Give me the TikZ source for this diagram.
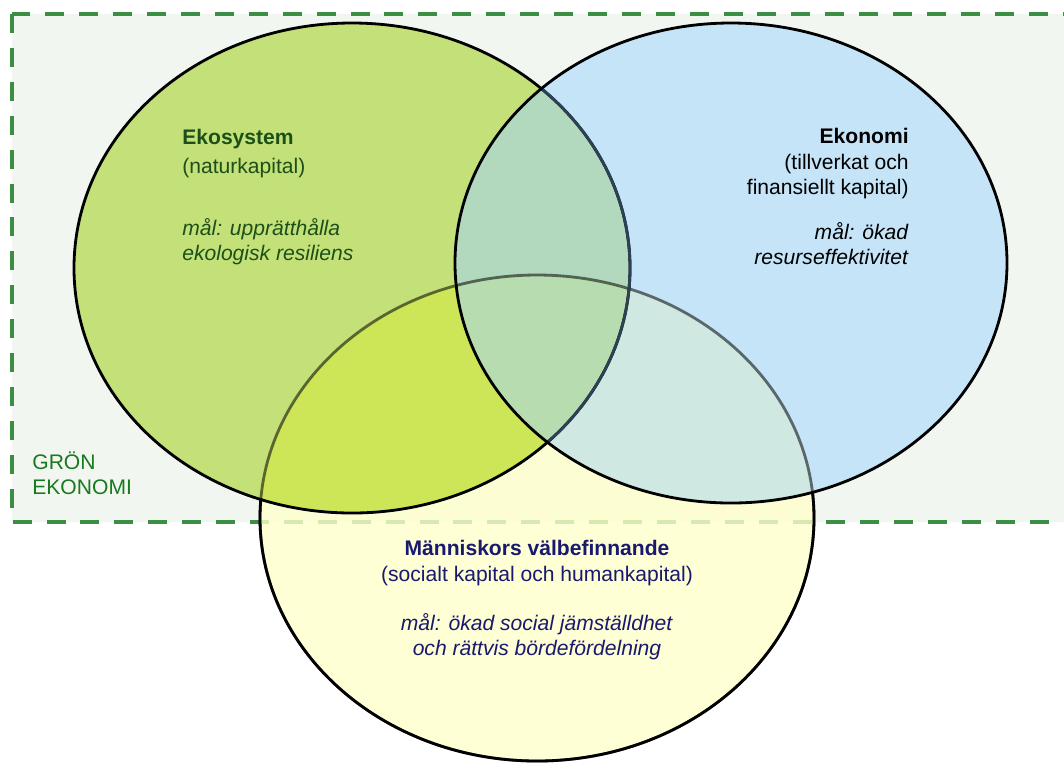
\documentclass[tikz,border=0pt]{standalone}
\usepackage{fontspec}
\setmainfont{Liberation Sans}
\usetikzlibrary{positioning}

\definecolor{boxgreen}{RGB}{58,143,69}
\definecolor{boxfill}{RGB}{241,247,240}
\definecolor{ekofill}{RGB}{196,224,120}
\definecolor{econfill}{RGB}{197,228,248}
\definecolor{welfill}{RGB}{255,255,204}
\definecolor{ekoecon}{RGB}{178,216,190}
\definecolor{ekowel}{RGB}{204,230,88}
\definecolor{econwel}{RGB}{208,232,226}
\definecolor{allthree}{RGB}{182,220,176}
\definecolor{ekotext}{RGB}{28,80,24}
\definecolor{weltext}{RGB}{25,25,110}
\definecolor{grontext}{RGB}{26,120,30}
\definecolor{seenrim}{RGB}{45,65,85}

% the three sets, #1 = path options
\newcommand{\ekoshape}[1]{\path[#1] (352,268) ellipse (278 and 245);}
\newcommand{\econshape}[1]{\path[#1] (731,263) ellipse (276 and 240);}
\newcommand{\welshape}[1]{\path[#1] (537,518) ellipse (277 and 243);}

\begin{document}
\begin{tikzpicture}[x=0.02cm,y=-0.02cm,
  every node/.style={inner sep=0pt, font=\fontsize{12}{14.5}\selectfont},
  boxline/.style={draw=boxgreen, line width=2.8pt, dash pattern=on 10.8pt off 8.5pt},
  rim/.style={draw=black, line width=1.6pt}]
\clip (0,0) rectangle (1064,769);
\fill[white] (0,0) rectangle (1064,769);
% green economy box
\draw[boxline, fill=boxfill] (12,14) rectangle (1090,522);
% fills
\welshape{fill=welfill, fill opacity=0.8}
\ekoshape{fill=ekofill}
\econshape{fill=econfill}
\begin{scope}
\ekoshape{clip}
\econshape{fill=ekoecon}
\welshape{fill=ekowel}
\end{scope}
\begin{scope}
\econshape{clip}
\welshape{fill=econwel}
\end{scope}
\begin{scope}
\ekoshape{clip}
\econshape{clip}
\welshape{fill=allthree}
\end{scope}
% outlines
\begin{scope}[even odd rule]
\clip (0,0) rectangle (1064,769) (352,268) ellipse (278 and 245);
\clip (0,0) rectangle (1064,769) (731,263) ellipse (276 and 240);
\welshape{rim}
\end{scope}
\welshape{rim, draw opacity=0.55}
\ekoshape{rim}
\begin{scope}
\econshape{clip}
\ekoshape{rim, draw=seenrim}
\end{scope}
\econshape{rim}
% labels
\node[anchor=north west, align=left, text=ekotext] (ekosystem) at (182,129)
  {\textbf{Ekosystem}\\[1.7pt] (naturkapital)\\[21pt] \textit{mål: upprätthålla}\\ \textit{ekologisk resiliens}};
\node[anchor=north east, align=right, text=black] (ekonomi) at (909,128)
  {\textbf{Ekonomi}\\ (tillverkat och\\ finansiellt kapital)\\[11pt] \textit{mål: ökad}\\ \textit{resurseffektivitet}};
\node[anchor=north, align=center, text=weltext] (manniskor) at (537,540)
  {\textbf{Människors välbefinnande}\\ (socialt kapital och humankapital)\\[13.6pt] \textit{mål: ökad social jämställdhet}\\ \textit{och rättvis bördefördelning}};
\node[anchor=north west, align=left, text=grontext] (gron) at (32,451)
  {GRÖN\\ EKONOMI};
\end{tikzpicture}
\end{document}
